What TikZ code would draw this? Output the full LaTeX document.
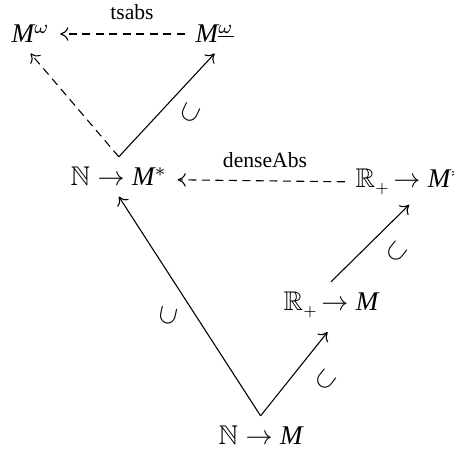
\documentclass[tikz,border=0pt]{standalone}
\usepackage{amssymb}
\usepackage{fontspec}
\setmainfont{Liberation Serif}
\usetikzlibrary{arrows.meta}
\newcommand{\mM}{\mathit{M}}
\newcommand{\Rp}{\mathbb{R}_{\scriptscriptstyle\mathbf{+}}}
\begin{document}
\begin{tikzpicture}[x=0.37pt,y=-0.37pt,
  obj/.style={inner sep=3.7pt,anchor=base west},
  lbl/.style={font=\footnotesize,inner sep=1pt,anchor=base},
  hook/.style={inner sep=0pt},
  arr/.style={-{To[length=3pt,width=5pt]},line width=0.4pt},
  darr/.style={arr,dash pattern=on 3pt off 2pt}]
\useasboundingbox (0,0) rectangle (454,452);
\node[obj] (A) at (1,43) {$\mM^{\omega}$};
\node[obj] (B) at (185,43) {$\mM^{\underline{\omega}}$};
\node[obj] (C) at (60,186) {$\mathbb{N}\to \mM^{*}$};
\node[obj] (D) at (345,188) {$\Rp\!\to \mM^{*}$};
\node[obj] (E) at (273,311) {$\Rp\!\to \mM$};
\node[obj] (F) at (208,445) {$\mathbb{N}\to \mM$};
\node[lbl] (l1) at (132,20) {tsabs};
\node[lbl] (l2) at (265,168) {denseAbs};
\draw[darr] (B.west) -- (A.east);
\draw[darr] (D.mid west) -- (C.mid east);
\draw[darr] (C.north) -- (A.south);
\draw[arr] (C.north) -- (B.south);
\draw[arr] (E.north) -- (D.south);
\draw[arr,shorten >=2pt] (F.north) -- (E.south);
\draw[arr] (F.north) -- (C.south);
\node[hook,rotate=65] (h1) at (190,113) {$\subset$};
\node[hook,rotate=52] (h2) at (397,252) {$\subset$};
\node[hook,rotate=78] (h3) at (168,316) {$\subset$};
\node[hook,rotate=52] (h4) at (326,380) {$\subset$};
\end{tikzpicture}
\end{document}
